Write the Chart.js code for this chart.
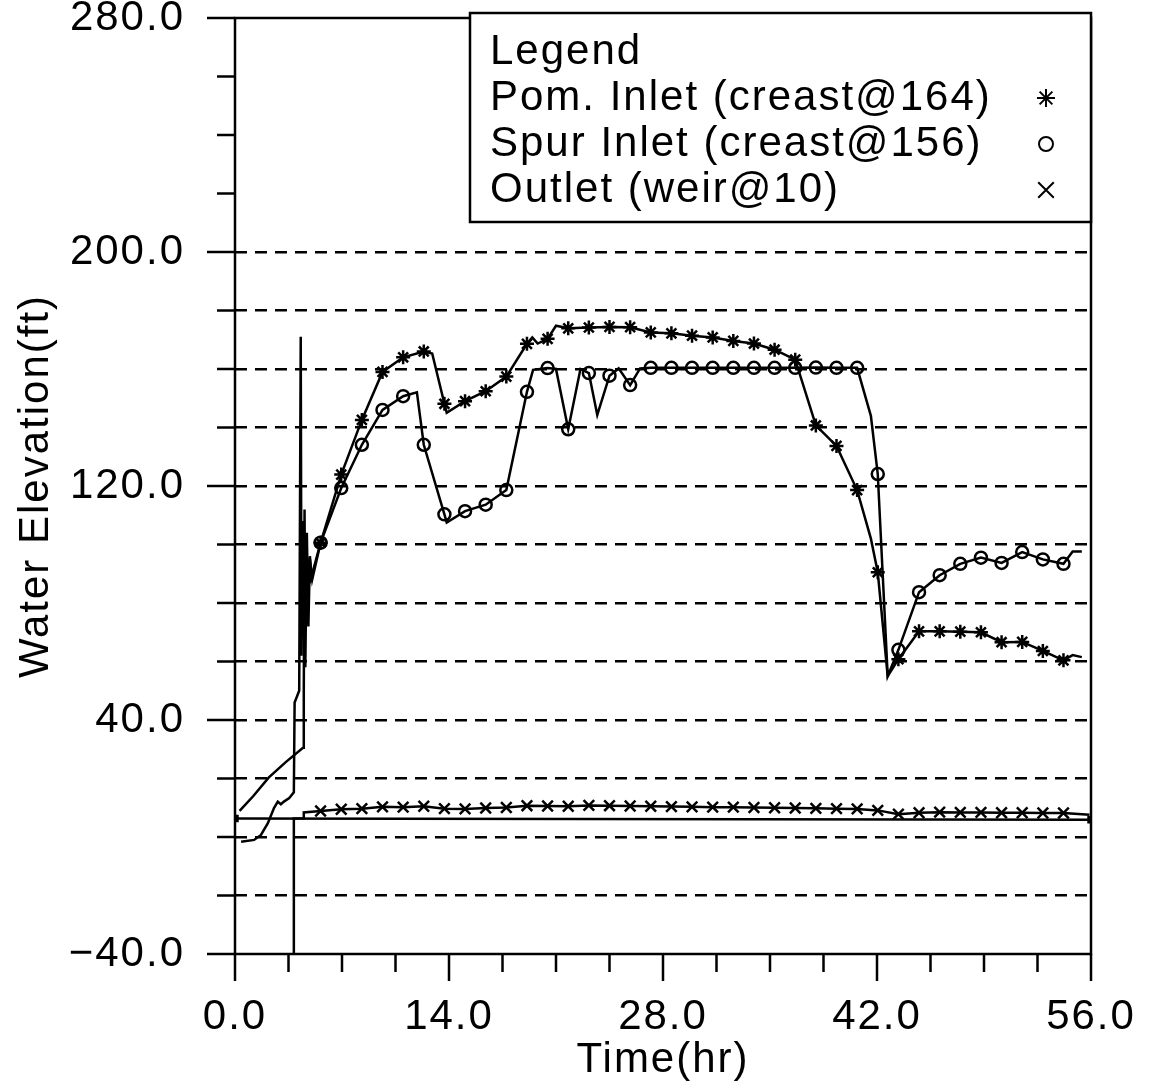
<!DOCTYPE html>
<html>
<head>
<meta charset="utf-8">
<title>Water Elevation</title>
<script src="https://cdn.jsdelivr.net/npm/chart.js@4.4.1/dist/chart.umd.min.js"></script>
<style>
  html, body { margin: 0; padding: 0; background: #fff; }
  #wrap { width: 1154px; height: 1086px; position: relative; }
</style>
</head>
<body>
<div id="wrap"><canvas id="elevChart"></canvas></div>
<script>
// times (hr) where the plotter put a symbol on each curve
const markTimes = [5.6, 6.95, 8.3, 9.65, 11.0, 12.35, 13.7, 15.05, 16.4, 17.75,
  19.1, 20.45, 21.8, 23.15, 24.5, 25.85, 27.2, 28.55, 29.9, 31.25,
  32.6, 33.95, 35.3, 36.65, 38.0, 39.35, 40.7, 42.05, 43.4, 44.75,
  46.1, 47.45, 48.8, 50.15, 51.5, 52.85, 54.2];

// Pom. Inlet
const pomTime = [0.3, 1.2, 2.2, 3.3, 4.45, 4.5, 4.55, 4.6, 4.7, 4.8,
  4.9, 5.0, 5.6, 6.95, 8.3, 9.65, 11.0, 12.35, 12.9, 13.7,
  13.85, 15.05, 16.4, 17.75, 19.1, 19.45, 19.8, 20.45, 21.0, 21.8,
  23.15, 24.5, 25.85, 27.2, 28.55, 29.9, 31.25, 32.6, 33.95, 35.3,
  36.65, 38.0, 39.35, 40.7, 41.6, 42.05, 42.7, 43.4, 44.75, 46.1,
  47.45, 48.8, 50.15, 51.5, 52.85, 54.2, 54.8, 55.4];
const pomLevel = [8.9, 14.0, 20.3, 25.5, 30.5, 50.0, 112.0, 58.0, 104.0, 72.0,
  96.0, 89.0, 100.6, 123.9, 142.6, 159.0, 164.0, 166.0, 165.3, 148.1,
  145.0, 149.0, 152.4, 157.4, 168.6, 170.8, 168.7, 170.3, 174.8, 173.9,
  174.2, 174.4, 174.3, 172.5, 172.2, 171.4, 170.8, 169.6, 168.7, 166.6,
  163.2, 140.7, 133.7, 118.6, 102.0, 90.5, 55.0, 60.8, 70.3, 70.3,
  70.2, 70.0, 66.6, 66.7, 63.6, 60.4, 62.2, 61.5];

// Spur Inlet
const spurTime = [0.4, 1.25, 1.7, 2.15, 2.55, 2.8, 3.0, 3.2, 3.55, 3.85,
  3.9, 4.2, 4.3, 4.35, 4.45, 4.55, 4.65, 4.75, 4.9, 5.05,
  5.6, 6.95, 8.3, 9.65, 11.0, 11.9, 12.35, 13.7, 13.85, 15.05,
  16.4, 17.75, 19.1, 19.5, 20.45, 21.0, 21.8, 22.6, 23.15, 23.7,
  24.5, 25.1, 25.85, 26.5, 27.2, 28.55, 29.9, 31.25, 32.6, 33.95,
  35.3, 36.65, 38.0, 39.35, 40.7, 41.6, 42.05, 42.7, 43.4, 44.75,
  46.1, 47.45, 48.8, 50.15, 51.5, 52.85, 54.2, 54.8, 55.4];
const spurLevel = [-1.6, -1.0, 0.7, 4.7, 9.9, 12.1, 11.2, 12.1, 13.3, 15.3,
  46.0, 50.0, 171.0, 62.0, 108.0, 66.0, 98.0, 80.0, 95.0, 88.0,
  100.6, 119.3, 134.1, 146.0, 150.7, 152.0, 134.1, 110.3, 107.5, 111.4,
  113.6, 118.6, 152.2, 159.7, 160.3, 160.0, 139.4, 160.0, 158.6, 144.3,
  157.7, 160.2, 154.5, 160.2, 160.4, 160.4, 160.4, 160.4, 160.4, 160.4,
  160.4, 160.4, 160.5, 160.4, 160.4, 144.0, 124.1, 55.0, 64.0, 83.7,
  89.5, 93.4, 95.5, 93.7, 97.4, 94.9, 93.4, 97.6, 97.6];

// Outlet
const outletTime = [3.85, 3.85, 4.45, 4.5, 5.6, 6.95, 8.3, 9.65, 11.0, 12.35,
  13.7, 15.05, 16.4, 17.75, 19.1, 20.45, 21.8, 23.15, 24.5, 25.85,
  27.2, 28.55, 29.9, 31.25, 32.6, 33.95, 35.3, 36.65, 38.0, 39.35,
  40.7, 42.05, 43.4, 44.75, 46.1, 47.45, 48.8, 50.15, 51.5, 52.85,
  54.2, 55.9];
const outletLevel = [-40, 6.3, 6.4, 8.4, 8.9, 9.5, 9.7, 10.3, 10.2, 10.5,
  9.7, 9.6, 9.9, 10.1, 10.7, 10.6, 10.5, 10.8, 10.7, 10.6,
  10.5, 10.4, 10.3, 10.2, 10.2, 10.1, 10.0, 9.9, 9.8, 9.7,
  9.6, 9.1, 7.8, 8.3, 8.5, 8.4, 8.4, 8.3, 8.3, 8.2,
  8.2, 7.6];

// flat line along the bottom of the curves
const baseTime = [0, 56];
const baseLevel = [6.3, 5.9];

const seriesLabels = ['Pom. Inlet (creast@164)', 'Spur Inlet (creast@156)', 'Outlet (weir@10)'];
const xLabelTicks = [0, 14, 28, 42, 56];
const yLabelTicks = [-40, 40, 120, 200, 280];

Chart.defaults.font.family = "'Liberation Sans', Arial, sans-serif";
Chart.defaults.font.size = 42;
Chart.defaults.color = '#000';

function toPoints(times, levels) {
  return times.map((t, i) => ({ x: t, y: levels[i] }));
}

function markerSize(r) {
  return ctx => (ctx.raw && markTimes.includes(ctx.raw.x)) ? r : 0;
}

function fmt(v) {
  return v < 0 ? '\u2212' + Math.abs(v).toFixed(1) : v.toFixed(1);
}

const legendStyles = [
  { pointStyle: 'star', radius: 9 },
  { pointStyle: 'circle', radius: 7 },
  { pointStyle: 'crossRot', radius: 11 }
];

const frameAndLegend = {
  id: 'frameAndLegend',
  beforeDraw(chart) {
    chart.ctx.letterSpacing = '2px';
  },
  afterDraw(chart) {
    const { ctx, chartArea: a, scales: { x, y } } = chart;
    ctx.save();
    ctx.strokeStyle = '#000';
    ctx.lineWidth = 2.5;
    ctx.setLineDash([]);
    ctx.strokeRect(a.left, a.top, a.right - a.left, a.bottom - a.top);

    // tick marks, longer where there is a label
    ctx.beginPath();
    y.ticks.forEach(t => {
      const py = y.getPixelForValue(t.value);
      const len = yLabelTicks.includes(t.value) ? 28 : 18;
      ctx.moveTo(a.left - len, py);
      ctx.lineTo(a.left, py);
    });
    x.ticks.forEach(t => {
      const px = x.getPixelForValue(t.value);
      const len = xLabelTicks.includes(t.value) ? 27 : 18;
      ctx.moveTo(px, a.bottom);
      ctx.lineTo(px, a.bottom + len);
    });
    ctx.stroke();

    // legend box in the top right corner
    const left = 470, top = 13, bottom = 222;
    ctx.fillStyle = '#fff';
    ctx.fillRect(left, top, a.right - left, bottom - top);
    ctx.strokeRect(left, top, a.right - left, bottom - top);
    ctx.fillStyle = '#000';
    ctx.font = "42px 'Liberation Sans', Arial, sans-serif";
    ctx.textBaseline = 'middle';
    ctx.textAlign = 'left';
    ctx.fillText('Legend', 490, 52);
    ctx.lineWidth = 2;
    seriesLabels.forEach((label, i) => {
      const rowY = 98 + i * 46;
      ctx.fillStyle = '#000';
      ctx.fillText(label, 490, rowY);
      ctx.fillStyle = 'rgba(0,0,0,0)';
      Chart.helpers.drawPoint(ctx, {
        pointStyle: legendStyles[i].pointStyle,
        radius: legendStyles[i].radius,
        rotation: 0,
        borderWidth: 2
      }, a.right - 45, rowY);
    });
    ctx.restore();
  }
};

const lineBase = {
  showLine: true,
  borderColor: '#000',
  borderWidth: 2.5,
  tension: 0,
  pointBorderColor: '#000',
  pointBorderWidth: 2.5,
  pointBackgroundColor: 'rgba(0,0,0,0)'
};

new Chart(document.getElementById('elevChart'), {
  type: 'scatter',
  data: {
    datasets: [
      Object.assign({}, lineBase, {
        label: seriesLabels[0],
        data: toPoints(pomTime, pomLevel),
        pointStyle: 'star',
        pointRadius: markerSize(7)
      }),
      Object.assign({}, lineBase, {
        label: seriesLabels[1],
        data: toPoints(spurTime, spurLevel),
        pointStyle: 'circle',
        pointRadius: markerSize(6)
      }),
      Object.assign({}, lineBase, {
        label: seriesLabels[2],
        data: toPoints(outletTime, outletLevel),
        pointStyle: 'crossRot',
        pointRadius: markerSize(7.5)
      }),
      Object.assign({}, lineBase, {
        label: 'base',
        data: toPoints(baseTime, baseLevel),
        pointStyle: 'rect',
        pointBackgroundColor: '#000',
        pointRadius: ctx => (ctx.dataIndex === 0 || ctx.dataIndex === baseTime.length - 1) ? 3.5 : 0
      })
    ]
  },
  options: {
    responsive: true,
    maintainAspectRatio: false,
    animation: false,
    events: [],
    layout: { padding: { left: 0, top: 18, right: 63, bottom: 0 } },
    plugins: {
      legend: { display: false },
      tooltip: { enabled: false }
    },
    scales: {
      x: {
        type: 'linear',
        min: 0,
        max: 56,
        afterFit: s => { s.height = 132; s.paddingLeft = 0; s.paddingRight = 0; },
        ticks: {
          stepSize: 3.5,
          autoSkip: false,
          maxRotation: 0,
          padding: 38,
          callback: v => xLabelTicks.includes(v) ? fmt(v) : ''
        },
        grid: { display: false, drawTicks: false },
        border: { display: false },
        title: { display: true, text: 'Time(hr)', padding: { top: 0, bottom: 0 } }
      },
      y: {
        type: 'linear',
        min: -40,
        max: 280,
        afterFit: s => { s.width = 235; s.paddingTop = 0; s.paddingBottom = 0; },
        ticks: {
          stepSize: 20,
          autoSkip: false,
          padding: 50,
          font: { size: 42, lineHeight: 0.8 },
          callback: v => yLabelTicks.includes(v) ? fmt(v) : ''
        },
        grid: {
          drawTicks: false,
          lineWidth: 2.5,
          color: ctx => (ctx.tick && ctx.tick.value >= -20 && ctx.tick.value <= 200) ? '#000' : 'rgba(0,0,0,0)'
        },
        border: { display: false, dash: [12, 8] },
        title: { display: true, text: 'Water Elevation(ft)', padding: { top: 11, bottom: 0 } }
      }
    }
  },
  plugins: [frameAndLegend]
});
</script>
</body>
</html>
